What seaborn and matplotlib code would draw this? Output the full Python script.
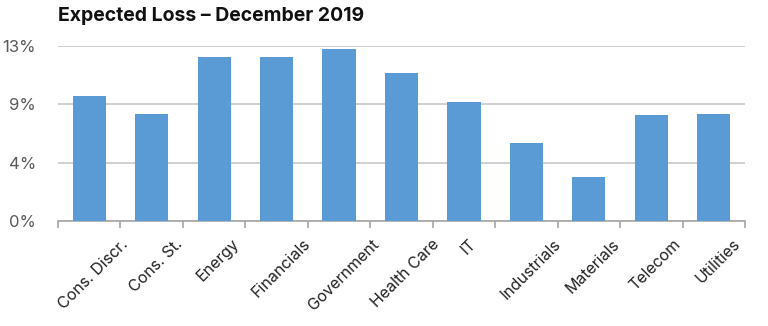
import matplotlib
matplotlib.use("Agg")
import matplotlib.pyplot as plt
import seaborn as sns
import pandas as pd
import numpy as np
from matplotlib.ticker import FixedLocator, FuncFormatter

categories = ["Cons. Discr.", "Cons. St.", "Energy", "Financials", "Government",
              "Health Care", "IT", "Industrials", "Materials", "Telecom", "Utilities"]
values = [9.29, 7.97, 12.18, 12.18, 12.75, 10.97, 8.82, 5.82, 3.27, 7.85, 7.97]
yticks = [0, 13 / 3, 26 / 3, 13]
title = "Expected Loss – December 2019"

sns.set_theme(style="white")
plt.rcParams['font.family'] = ['Inter', 'DejaVu Sans']

df = pd.DataFrame({"sector": categories, "loss": values})

fig = plt.figure(figsize=(7.68, 3.26), dpi=100)
ax = fig.add_axes([58 / 768, 1 - 221 / 326, (745 - 58) / 768, (221 - 46) / 326])

sns.barplot(data=df, x="sector", y="loss", color="#5B9BD5", width=0.53,
            saturation=1, ax=ax, zorder=3, edgecolor="none", linewidth=0)

ax.set_ylim(0, 13)
ax.set_xlim(-0.5, len(categories) - 0.5)
ax.yaxis.set_major_locator(FixedLocator(yticks))
ax.yaxis.set_major_formatter(FuncFormatter(lambda v, p: f"{v:.0f}%"))
ax.grid(axis="y", color="#C8C8C8", linewidth=1.2, zorder=0)
ax.set_axisbelow(True)
ax.set_xlabel("")
ax.set_ylabel("")

for s in ["top", "right", "left"]:
    ax.spines[s].set_visible(False)
ax.spines["bottom"].set_color("#A6A6A6")
ax.spines["bottom"].set_linewidth(1.2)

# category-boundary ticks (Excel style)
ax.set_xticks(np.arange(len(categories)))
ax.set_xticklabels([])
ax.set_xticks(np.arange(-0.5, len(categories)), minor=True)
ax.tick_params(axis="x", which="major", length=0, pad=6)
ax.tick_params(axis="x", which="minor", length=5, width=1.2, color="#A6A6A6",
               direction="out", bottom=True)
ax.tick_params(axis="y", length=0, pad=16, labelsize=12, labelcolor="#595959")

for i, lab in enumerate(categories):
    ax.annotate(lab, xy=(i, 0), xycoords=("data", "axes fraction"),
                xytext=(3, -11), textcoords="offset points",
                rotation=45, ha="center", va="top", fontsize=11.5,
                color="#222222")

fig.text(58 / 768, 1 - 16 / 326, title, ha="left", va="center",
         fontsize=14, fontweight="bold", color="#111111")

fig.savefig("out.png", dpi=100, facecolor="white")
